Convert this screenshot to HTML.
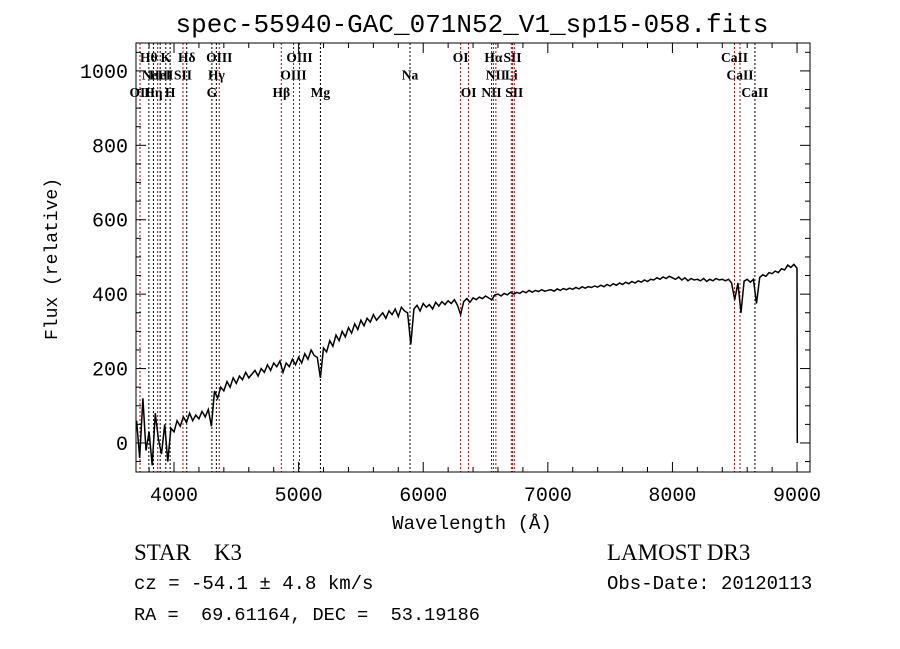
<!DOCTYPE html>
<html><head><meta charset="utf-8"><style>
body{margin:0;background:#fff;width:900px;height:649px;overflow:hidden}
svg{display:block}
.t{font-family:"Liberation Mono",monospace;fill:#000}
.s{font-family:"Liberation Serif",serif;fill:#000}
</style></head><body>
<svg id="chart" width="900" height="649" xmlns="http://www.w3.org/2000/svg">
<text class="t" x="472" y="32" font-size="26" text-anchor="middle">spec-55940-GAC_071N52_V1_sp15-058.fits</text>
<g id="lines"></g>
<g id="spec"></g>
<g id="axes"></g>
<text class="t" x="472" y="529" font-size="19" text-anchor="middle">Wavelength (Å)</text>
<text class="t" transform="translate(57,259) rotate(-90)" font-size="18" text-anchor="middle">Flux (relative)</text>
<text class="s" x="134" y="560" font-size="23" xml:space="preserve">STAR    K3</text>
<text class="t" x="134" y="589" font-size="19">cz = -54.1 ± 4.8 km/s</text>
<text class="t" x="134" y="620" font-size="18.6" xml:space="preserve">RA =  69.61164, DEC =  53.19186</text>
<text class="s" x="607" y="560" font-size="23">LAMOST DR3</text>
<text class="t" x="607" y="589" font-size="19">Obs-Date: 20120113</text>
</svg>
<script>
const xTicks=[4000,5000,6000,7000,8000,9000];
const yTicks=[0,200,400,600,800,1000];
const fluxStart=3700, fluxStep=25;
const flux=[60,-40,120,-20,30,-60,80,10,-30,50,
-50,40,30,60,45,70,55,80,60,75,
65,85,70,90,45,140,120,150,140,165,
150,175,160,180,170,190,175,185,195,180,
200,190,210,195,215,205,220,190,215,205,
225,210,230,215,240,225,250,235,230,175,
255,245,275,260,290,275,300,285,310,295,
320,305,330,315,335,325,345,330,340,350,
335,355,345,360,340,365,355,350,265,360,
370,355,375,365,372,360,378,368,380,372,
382,375,385,370,345,380,388,378,390,385,
392,388,395,390,385,398,400,395,402,398,
405,400,405,402,408,404,410,405,410,407,
412,408,410,412,408,414,410,415,412,416,
413,418,414,420,416,420,418,422,419,424,
420,426,422,428,424,430,426,432,428,434,
430,436,432,438,434,440,438,444,440,446,
442,448,444,440,446,438,444,436,442,438,
440,436,442,434,440,436,442,438,440,436,
440,430,385,430,350,435,440,432,440,375,
445,452,448,458,455,462,458,468,465,478,
472,480,470,0];
const lineWaves=[3727,3798,3835,3869,3889,3934,3969,4072,4102,4304,4340,4363,4861,4959,5007,5175,5894,6300,6364,6548,6563,6583,6707,6717,6731,8498,8542,8662];
const lineLabels=["OII","Hθ","Hη","NeIII","HeI","K","H","SII","Hδ","G","Hγ","OIII","Hβ","OIII","OIII","Mg","Na","OI","OI","NII","Hα","NII","Li","SII","SII","CaII","CaII","CaII"];
const lineRows=[2,0,2,1,1,0,2,1,0,2,1,0,2,1,0,2,1,0,2,2,0,1,1,0,2,0,1,2];
const lineRed=[1,0,0,1,0,0,0,1,0,0,0,1,1,1,1,0,0,1,1,1,1,1,1,1,1,1,1,0];
const X0=136,X1=810,Y0=43,Y1=472, W0=3695,W1=9104, F0=-78,F1=1075;
const sx=w=>X0+(w-W0)/(W1-W0)*(X1-X0);
const sy=f=>Y1-(f-F0)/(F1-F0)*(Y1-Y0);
const NS="http://www.w3.org/2000/svg";
function mk(tag,attrs,parent){const e=document.createElementNS(NS,tag);for(const k in attrs)e.setAttribute(k,attrs[k]);parent.appendChild(e);return e;}
const gL=document.getElementById('lines'),gS=document.getElementById('spec'),gA=document.getElementById('axes');
lineWaves.forEach((w,i)=>{
 const x=sx(w);
 const l=mk('line',{x1:x,x2:x,y1:Y0,y2:Y1,stroke:lineRed[i]?'#c00000':'#000','stroke-width':1,'stroke-dasharray':'2,2'},gL);
 
 
 const t=mk('text',{x:x,y:62+lineRows[i]*17.5,'font-size':13.5,'font-weight':'bold','text-anchor':'middle',class:'s'},gL);
 t.textContent=lineLabels[i];
 
 
});
let d='';
flux.forEach((f,i)=>{const w=fluxStart+i*fluxStep;d+=(i?'L':'M')+sx(i==flux.length-1?9002:w).toFixed(1)+','+sy(f).toFixed(1);});
const p=mk('path',{d:d,fill:'none',stroke:'#000','stroke-width':1.5},gS);


const fr=mk('rect',{x:X0,y:Y0,width:X1-X0,height:Y1-Y0,fill:'none',stroke:'#000','stroke-width':1},gA);


for(let w=3800;w<=9100;w+=200){const x=sx(w),L=(w%1000==0)?10:5;
 mk('line',{x1:x,x2:x,y1:Y1,y2:Y1-L,stroke:'#000'},gA);mk('line',{x1:x,x2:x,y1:Y0,y2:Y0+L,stroke:'#000'},gA);}
for(let f=-50;f<=1050;f+=50){const y=sy(f),L=(f%200==0)?10:5;
 mk('line',{x1:X0,x2:X0+L,y1:y,y2:y,stroke:'#000'},gA);mk('line',{x1:X1,x2:X1-L,y1:y,y2:y,stroke:'#000'},gA);}
xTicks.forEach(v=>{const t=mk('text',{x:sx(v),y:Y1+29,'font-size':20,'text-anchor':'middle',class:'t'},gA);t.textContent=v;
 
 });
yTicks.forEach(v=>{const t=mk('text',{x:X0-8,y:sy(v)+7,'font-size':20,'text-anchor':'end',class:'t'},gA);t.textContent=v;
 
 });
</script>
</body></html>
